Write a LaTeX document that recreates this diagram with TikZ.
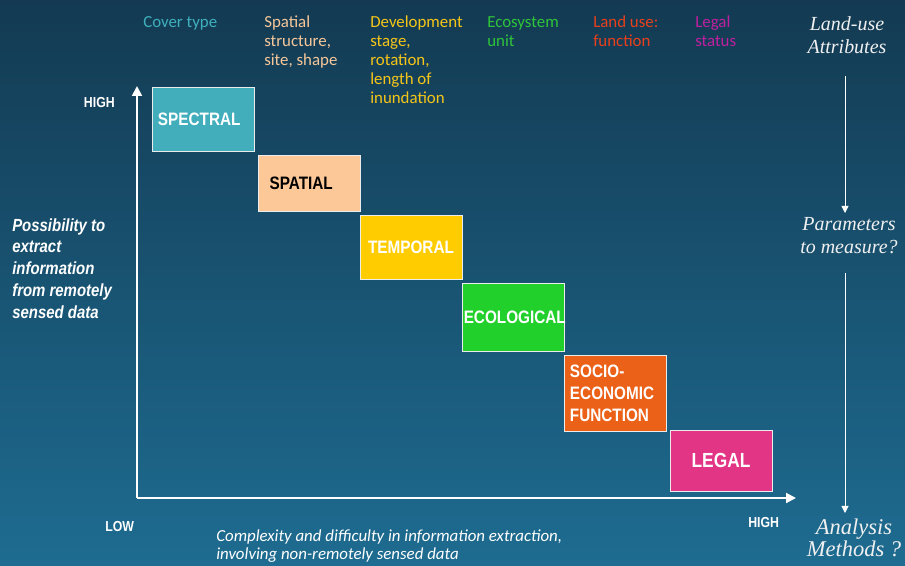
\documentclass[tikz,border=0pt]{standalone}
\usepackage{fontspec}
\usetikzlibrary{arrows.meta}
\newfontfamily\calib{Carlito}
\newfontfamily\arialn[FakeStretch=0.85]{Liberation Sans}
\newfontfamily\antiq{Liberation Serif}
\definecolor{bgtop}{HTML}{133A52}
\definecolor{bgbot}{HTML}{1E6C91}
\definecolor{cteal}{HTML}{42ADBB}
\definecolor{cpeach}{HTML}{FCC898}
\definecolor{cyellow}{HTML}{FFCC00}
\definecolor{cgreen}{HTML}{22D02B}
\definecolor{corange}{HTML}{EC6118}
\definecolor{cpink}{HTML}{E23585}
\definecolor{tteal}{HTML}{3FB0BD}
\definecolor{tpeach}{HTML}{F5C79A}
\definecolor{tyellow}{HTML}{F5C518}
\definecolor{tgreen}{HTML}{2FC43A}
\definecolor{tred}{HTML}{E8401C}
\definecolor{tmagenta}{HTML}{C01FA0}
\newcommand\legalsize{\fontsize{14.5pt}{17pt}\selectfont}
\tikzset{
  box/.style={draw=white!85!gray, line width=0.6pt, inner xsep=0.15cm,
    minimum width=2.55cm, text width=2.25cm,
    font=\arialn\bfseries\fontsize{12.8pt}{15.6pt}\selectfont},
  toplabel/.style={anchor=north west, inner sep=0, align=left,
    font=\calib\fontsize{12pt}{13.5pt}\selectfont},
  axislabel/.style={inner sep=0, text=white,
    font=\arialn\bfseries\fontsize{10.3pt}{12pt}\selectfont},
  question/.style={anchor=north, inner sep=0, align=center, text=white!94!black,
    font=\antiq\itshape\fontsize{14.2pt}{16.5pt}\selectfont},
  axis/.style={white, line width=1.4pt, -{Triangle[length=7pt,width=7pt]}},
  rail/.style={white, line width=0.6pt, -{Triangle[length=5pt,width=5pt]}}
}
\begin{document}
\begin{tikzpicture}[x=0.025cm, y=-0.025cm]
    \useasboundingbox (0,0) rectangle (905,565);
    \shade[top color=bgtop, bottom color=bgbot] (0,0) rectangle (905,565);

    % attribute headings
    \foreach \nm/\x/\col/\txt in {cover/143/tteal/{Cover type},
        spat/264/tpeach/{Spatial\\structure,\\site, shape},
        dev/370/tyellow/{Development\\stage,\\rotation,\\length of\\inundation},
        eco/487/tgreen/{Ecosystem\\unit},
        use/593/tred/{Land use:\\function},
        leg/695/tmagenta/{Legal\\status}}
        \node[toplabel, text=\col] (h\nm) at (\x,16) {\txt};

    % category boxes
    \foreach \nm/\cx/\cy/\h/\col/\tc/\al/\txt in {
        spectral/203/119/1.6/cteal/white/left/{SPECTRAL},
        spatial/309/183/1.4/cpeach/black/left/{\hspace*{4pt}\mbox{SPATIAL}},
        temporal/411/247/1.6/cyellow/white/center/{TEMPORAL},
        ecological/513/317/1.7/cgreen/white/center/{\hspace*{-3pt}\mbox{ECOLOGICAL}},
        socio/615/393/1.9/corange/white/left/{SOCIO-\\ECONOMIC\\FUNCTION},
        legal/721/460.5/1.525/cpink/white/center/{\legalsize LEGAL}}
        \node[box, fill=\col, text=\tc, align=\al, minimum height=\h cm] (\nm) at (\cx,\cy) {\txt};

    % axes
    \coordinate (origin) at (137,498);
    \coordinate (ytop) at (137,86);
    \coordinate (xend) at (796,498);
    \draw[axis] (origin) -- (ytop);
    \draw[axis] (origin) -- (xend);

    \node[axislabel, anchor=base east] (yhigh) at (115,107) {HIGH};
    \node[axislabel, anchor=base west] (xlow) at (105,531) {LOW};
    \node[axislabel, anchor=base west] (xhigh) at (748,527) {HIGH};

    \node[anchor=north west, inner sep=0, align=left, text=white,
        font=\arialn\bfseries\itshape\fontsize{12.5pt}{15.6pt}\selectfont] (ylabel) at (12,218)
        {Possibility to\\extract\\information\\from remotely\\sensed data};
    \node[anchor=north west, inner sep=0, align=left, text=white,
        font=\calib\itshape\fontsize{12pt}{12.8pt}\selectfont] (xlabel) at (216,529)
        {Complexity and difficulty in information extraction,\\involving non-remotely sensed data};

    % right-hand chain
    \node[question] (attr) at (847,16) {Land-use\\Attributes};
    \node[question] (param) at (849,217) {Parameters\\to measure?};
    \node[question, font=\antiq\itshape\fontsize{16pt}{15.6pt}\selectfont] (method) at (854,519) {Analysis\\Methods ?};
    \coordinate (railx) at (845,0);
    \draw[rail] (attr.south -| railx) ++(0,22) -- ([yshift=0.1cm]param.north -| railx);
    \draw[rail] (param.south -| railx) ++(0,19) -- ([yshift=0.15cm]method.north -| railx);
\end{tikzpicture}
\end{document}
